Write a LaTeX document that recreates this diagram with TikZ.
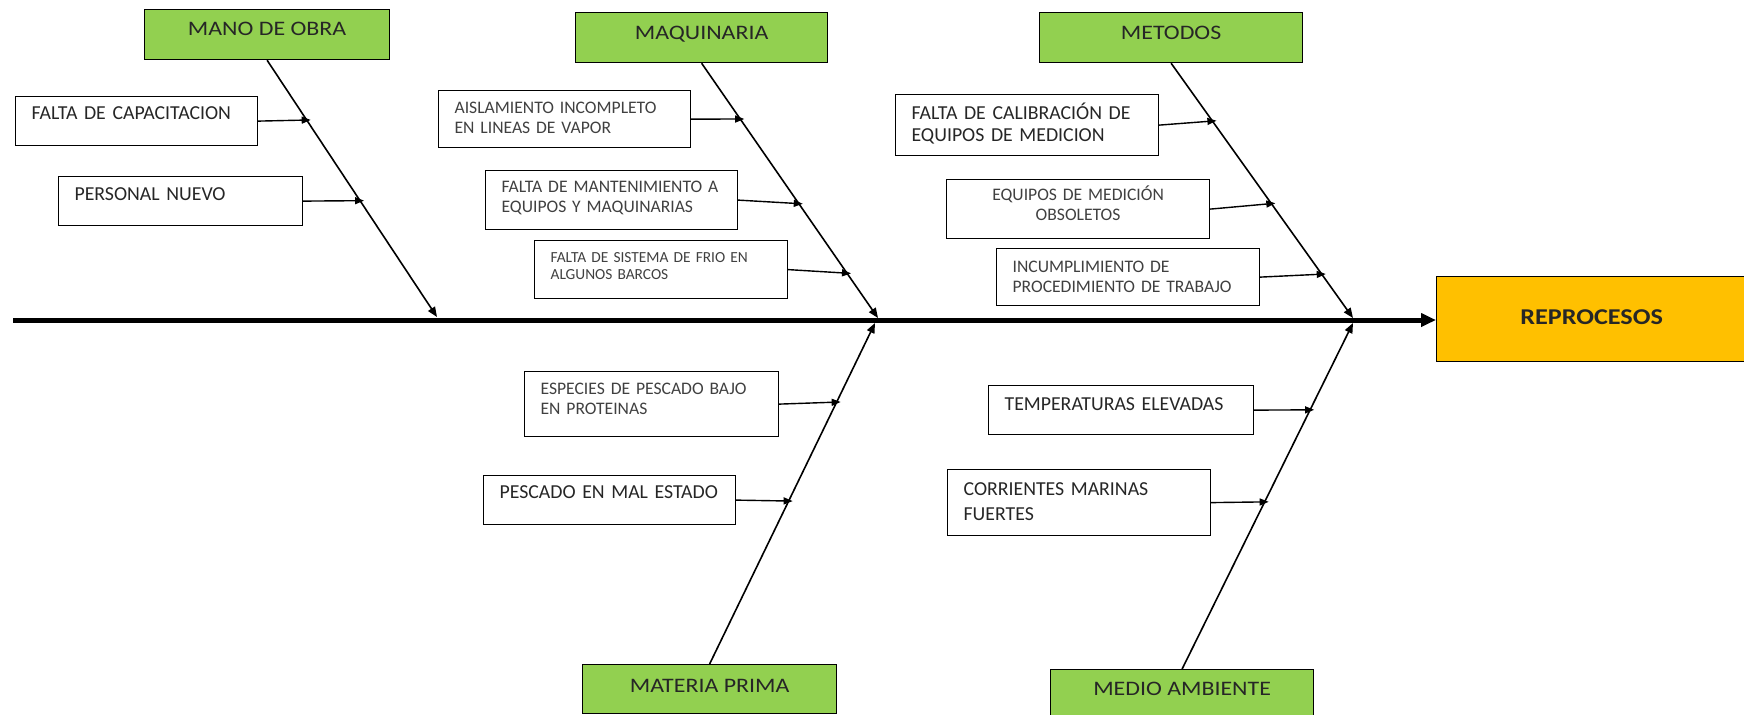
\documentclass[tikz,border=0pt]{standalone}
\usepackage{fontspec}
\setmainfont{Carlito}
\newfontfamily\titlefont{Carlito}[FakeStretch=1.16]
\usetikzlibrary{arrows.meta, calc, positioning}
\definecolor{catgreen}{HTML}{92D050}
\definecolor{effectorange}{HTML}{FFC000}

\begin{document}
\begin{tikzpicture}[x=0.5pt, y=-0.5pt,
		cat/.style = {draw, line width=0.6pt, fill=catgreen, anchor=north west, inner sep=0pt, font=\titlefont\fontsize{10.3}{12}\selectfont, text=black!85},
		cause/.style = {draw, line width=0.6pt, anchor=north west, align=left, inner xsep=8pt, inner ysep=0pt},
		bigtext/.style = {font=\fontsize{9.9}{11.5}\selectfont, text=black!85},
		smalltext/.style = {font=\fontsize{8.8}{10}\selectfont, text=black!75},
		tinytext/.style = {font=\fontsize{7.7}{8.4}\selectfont, text=black!75},
		bone/.style = {line width=0.8pt, -{Triangle[length=5pt, width=4pt]}},
		twig/.style = {line width=0.7pt, shorten >=-2pt, -{Triangle[length=4.5pt, width=3.5pt]}}]
		\useasboundingbox (0,0) rectangle (1744,714);
		\node[cat, minimum width=122.5pt, text height=13pt, text depth=12pt] (mano) at (144,9) {MANO DE OBRA};
		\node[cat, minimum width=126pt, text height=13.5pt, text depth=11.5pt] (maq) at (575,12) {MAQUINARIA};
		\node[cat, minimum width=131.5pt, text height=13.5pt, text depth=11.5pt] (met) at (1039,12) {METODOS};
		\node[cat, minimum width=127pt, text height=14pt, text depth=10.5pt] (mat) at (582,664) {MATERIA PRIMA};
		\node[cat, minimum width=131.5pt, text height=13pt, text depth=12pt] (med) at (1050,669) {MEDIO AMBIENTE};
		\node[cat, fill=effectorange, minimum width=155pt, text height=24pt, text depth=18.5pt, font=\titlefont\bfseries\fontsize{11.3}{13}\selectfont] (rep) at (1436,276) {REPROCESOS};
		\node[cause, bigtext, text width=105pt, text height=11.5pt, text depth=13pt] (capac) at (15,96) {FALTA DE CAPACITACION};
		\node[cause, bigtext, text width=106pt, text height=12pt, text depth=12.5pt] (nuevo) at (58,176) {PERSONAL NUEVO};
		\node[cause, smalltext, text width=110pt, text height=11.5pt, text depth=17pt] (aisla) at (438,90) {AISLAMIENTO INCOMPLETO\\EN LINEAS DE VAPOR};
		\node[cause, smalltext, text width=110pt, text height=11pt, text depth=18.5pt] (mante) at (485,170) {FALTA DE MANTENIMIENTO A\\EQUIPOS Y MAQUINARIAS};
		\node[cause, tinytext, text width=110.5pt, text height=11pt, text depth=18pt] (frio) at (534,240) {FALTA DE SISTEMA DE FRIO EN\\ALGUNOS BARCOS};
		\node[cause, bigtext, font=\fontsize{9.9}{11}\selectfont, text width=115.5pt, text height=12.5pt, text depth=18pt] (calib) at (895,94) {FALTA DE CALIBRACIÓN DE\\EQUIPOS DE MEDICION};
		\node[cause, smalltext, align=center, text width=115.5pt, text height=10.5pt, text depth=19pt] (obsol) at (946,179) {EQUIPOS DE MEDICIÓN\\OBSOLETOS};
		\node[cause, smalltext, text width=115.5pt, text height=12pt, text depth=16.5pt] (incum) at (996,248) {INCUMPLIMIENTO DE\\PROCEDIMIENTO DE TRABAJO};
		\node[cause, smalltext, text width=111pt, text height=11.5pt, text depth=21pt] (espec) at (524,371) {ESPECIES DE PESCADO BAJO\\EN PROTEINAS};
		\node[cause, bigtext, text width=110pt, text height=11.5pt, text depth=13pt] (pesca) at (483,475) {PESCADO EN MAL ESTADO};
		\node[cause, bigtext, text width=116.5pt, text height=12.5pt, text depth=12pt] (tempe) at (988,385) {TEMPERATURAS ELEVADAS};
		\node[cause, bigtext, font=\fontsize{9.9}{12.5}\selectfont, text width=115.5pt, text height=13pt, text depth=20pt] (corri) at (947,469) {CORRIENTES MARINAS\\FUERTES};
		\coordinate (tail) at (13,320);
		\coordinate (j1) at (437,317);
		\coordinate (j2) at (878,318);
		\coordinate (j3) at (1353,318);
		\coordinate (k2) at (875,323);
		\coordinate (k3) at (1353,323);
		\draw[line width=2.5pt, -{Triangle[length=7.5pt, width=6.5pt]}] (tail) -- (tail -| rep.west);
		\draw[bone] (mano.south) -- (j1);
		\draw[bone] (maq.south) -- (j2);
		\draw[bone] (met.south) -- (j3);
		\draw[bone] (mat.north) -- (k2);
		\draw[bone] (med.north) -- (k3);
		\draw[twig] (capac.east) -- ($(mano.south)!0.233!(j1)$);
		\draw[twig] (nuevo.east) -- ($(mano.south)!0.547!(j1)$);
		\draw[twig] (aisla.east) -- ($(maq.south)!0.219!(j2)$);
		\draw[twig] (mante.east) -- ($(maq.south)!0.551!(j2)$);
		\draw[twig] (frio.east) -- ($(maq.south)!0.824!(j2)$);
		\draw[twig] (calib.east) -- ($(met.south)!0.227!(j3)$);
		\draw[twig] (obsol.east) -- ($(met.south)!0.551!(j3)$);
		\draw[twig] (incum.east) -- ($(met.south)!0.828!(j3)$);
		\draw[twig] (espec.east) -- ($(mat.north)!0.768!(k2)$);
		\draw[twig] (pesca.east) -- ($(mat.north)!0.478!(k2)$);
		\draw[twig] (tempe.east) -- ($(med.north)!0.749!(k3)$);
		\draw[twig] (corri.east) -- ($(med.north)!0.483!(k3)$);
	\end{tikzpicture}
\end{document}
